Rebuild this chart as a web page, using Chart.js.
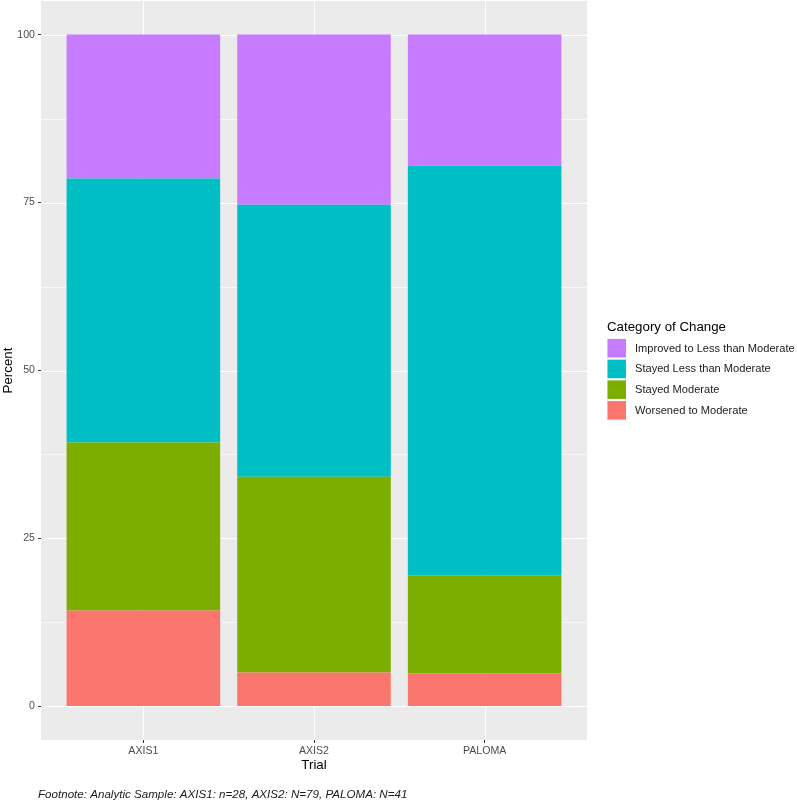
<!DOCTYPE html>
<html>
<head>
<meta charset="utf-8">
<script src="https://cdn.jsdelivr.net/npm/chart.js@4/dist/chart.umd.min.js"></script>
<style>
  html, body { margin: 0; padding: 0; background: #fff; }
  #wrap { width: 797px; height: 803px; position: relative; }
</style>
</head>
<body>
<div id="wrap"><canvas id="trialChart" width="797" height="803"></canvas></div>
<script>
// categories on the x axis
const trials = ['AXIS1', 'AXIS2', 'PALOMA'];

// percent per category of change (bottom to top of each stack)
const worsened = [14.29, 5.06, 4.88];
const stayedModerate = [25.00, 29.11, 14.63];
const stayedLess = [39.29, 40.51, 60.98];
const improved = [21.43, 25.32, 19.51];

const seriesNames = ['Worsened to Moderate', 'Stayed Moderate', 'Stayed Less than Moderate', 'Improved to Less than Moderate'];
const seriesColors = ['#F8766D', '#7CAE00', '#00BFC4', '#C77CFF'];

const yTicks = [0, 25, 50, 75, 100];
const yMinor = [12.5, 37.5, 62.5, 87.5];

const legendTitle = 'Category of Change';
const footnote = 'Footnote: Analytic Sample: AXIS1: n=28, AXIS2: N=79, PALOMA: N=41';

const FONT = '"Liberation Sans", Arial, sans-serif';

function toPoints(values) {
    return values.map((v, i) => ({ x: i + 1, y: v }));
}

const allSeries = [worsened, stayedModerate, stayedLess, improved];
const datasets = allSeries.map((vals, i) => ({
    label: seriesNames[i],
    data: toPoints(vals),
    backgroundColor: seriesColors[i],
    borderWidth: 0,
    barPercentage: 0.9,
    categoryPercentage: 1
}));

// grey panel and white grid lines, like ggplot
const panelPlugin = {
    id: 'panel',
    beforeDatasetsDraw(chart) {
        const { ctx, chartArea, scales } = chart;
        ctx.save();
        ctx.fillStyle = '#EBEBEB';
        ctx.fillRect(chartArea.left, chartArea.top, chartArea.right - chartArea.left, chartArea.bottom - chartArea.top);
        ctx.strokeStyle = '#FFFFFF';
        ctx.lineWidth = 0.6;
        yMinor.forEach(v => {
            const y = Math.round(scales.y.getPixelForValue(v)) + 0.5;
            ctx.beginPath();
            ctx.moveTo(chartArea.left, y);
            ctx.lineTo(chartArea.right, y);
            ctx.stroke();
        });
        ctx.lineWidth = 1.1;
        yTicks.forEach(v => {
            const y = Math.round(scales.y.getPixelForValue(v)) + 0.5;
            ctx.beginPath();
            ctx.moveTo(chartArea.left, y);
            ctx.lineTo(chartArea.right, y);
            ctx.stroke();
        });
        trials.forEach((t, i) => {
            const x = Math.round(scales.x.getPixelForValue(i + 1)) + 0.5;
            ctx.beginPath();
            ctx.moveTo(x, chartArea.top);
            ctx.lineTo(x, chartArea.bottom);
            ctx.stroke();
        });
        ctx.restore();
    }
};

// legend on the right and the footnote under the plot
const sideTextPlugin = {
    id: 'sideText',
    afterDraw(chart) {
        const { ctx } = chart;
        ctx.save();
        ctx.textBaseline = 'middle';
        ctx.textAlign = 'left';
        ctx.fillStyle = '#000000';
        ctx.font = '13.3px ' + FONT;
        ctx.fillText(legendTitle, 607, 327);

        ctx.font = '11.1px ' + FONT;
        for (let i = seriesNames.length - 1, row = 0; i >= 0; i--, row++) {
            const top = 338.5 + row * 20.7;
            ctx.fillStyle = '#F2F2F2';
            ctx.fillRect(607, top, 19.5, 19.5);
            ctx.fillStyle = seriesColors[i];
            ctx.fillRect(607.5, top + 0.5, 18.5, 18.5);
            ctx.fillStyle = '#1A1A1A';
            ctx.fillText(seriesNames[i], 635, top + 10);
        }

        ctx.font = 'italic 11.6px ' + FONT;
        ctx.fillStyle = '#1A1A1A';
        ctx.fillText(footnote, 38, 795);
        ctx.restore();
    }
};

const ctx = document.getElementById('trialChart').getContext('2d');
const trialChart = new Chart(ctx, {
    type: 'bar',
    data: { datasets: datasets },
    options: {
        responsive: false,
        animation: false,
        devicePixelRatio: 1,
        layout: { padding: { left: 0, top: 1, right: 210, bottom: 23 } },
        plugins: {
            legend: { display: false },
            tooltip: { enabled: false }
        },
        scales: {
            x: {
                type: 'linear',
                stacked: true,
                offset: false,
                min: 0.4,
                max: 3.6,
                afterBuildTicks: (scale) => {
                    scale.ticks = trials.map((t, i) => ({ value: i + 1 }));
                },
                afterFit: (scale) => {
                    scale.height = 40;
                    scale.paddingLeft = 0;
                    scale.paddingRight = 0;
                },
                border: { display: false },
                grid: { offset: false, drawOnChartArea: false, drawTicks: true, tickLength: 3, tickColor: '#333333', tickWidth: 1 },
                ticks: {
                    autoSkip: false,
                    maxRotation: 0,
                    padding: 2,
                    color: '#4D4D4D',
                    font: { family: FONT, size: 10.6 },
                    callback: (value) => trials[value - 1]
                },
                title: {
                    display: true,
                    text: 'Trial',
                    color: '#000000',
                    font: { family: FONT, size: 13.3 },
                    padding: { top: 0, bottom: 6.5 }
                }
            },
            y: {
                stacked: true,
                min: -5,
                max: 105,
                afterBuildTicks: (scale) => {
                    scale.ticks = yTicks.map(v => ({ value: v }));
                },
                afterFit: (scale) => {
                    scale.width = 41;
                    scale.paddingTop = 0;
                    scale.paddingBottom = 0;
                },
                border: { display: false },
                grid: { drawOnChartArea: false, drawTicks: true, tickLength: 3, tickColor: '#333333', tickWidth: 1 },
                ticks: {
                    padding: 3,
                    color: '#4D4D4D',
                    font: { family: FONT, size: 10.6 },
                    callback: (value) => String(value)
                },
                title: {
                    display: true,
                    text: 'Percent',
                    color: '#000000',
                    font: { family: FONT, size: 13.3 },
                    padding: 0
                }
            }
        }
    },
    plugins: [panelPlugin, sideTextPlugin]
});
</script>
</body>
</html>
